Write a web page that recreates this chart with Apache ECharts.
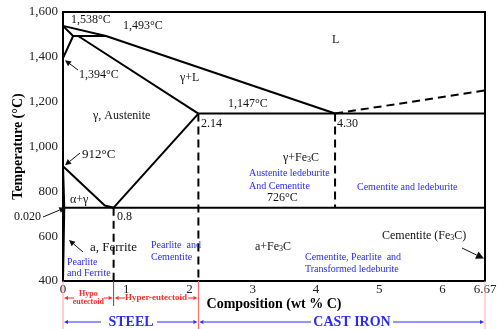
<!DOCTYPE html>
<html>
<head>
<meta charset="utf-8">
<script src="https://cdn.jsdelivr.net/npm/echarts@6/dist/echarts.min.js"></script>
<style>
  html, body { margin: 0; padding: 0; background: #fff; }
  #chart { width: 499px; height: 329px; }
</style>
</head>
<body>
<div id="chart"></div>
<script>
// Fe–Fe3C phase diagram: boundaries as [wt % C, temperature °C]
const deltaBoundary = [[0, 1538], [0.16, 1493], [0, 1394]];
const peritecticLine = [[0.16, 1493], [0.68, 1493]];
const liquidus = [[0, 1538], [0.68, 1493], [4.30, 1147]];
const solidus = [[0.24, 1493], [2.14, 1147]];
const eutecticLine = [[2.14, 1147], [6.67, 1147]];
const a3Line = [[0, 912], [0.66, 737], [0.8, 727]];
const acmLine = [[0.8, 727], [2.14, 1147]];
const alphaGammaLine = [[0, 912], [0.02, 727]];
const alphaSolvus = [[0.02, 727], [0, 400]];
const eutectoidLine = [[0.02, 727], [6.67, 727]];
const cementiteLiquidus = [[4.30, 1147], [6.67, 1250]];
const eutectoidVertical = [[0.8, 727], [0.8, 400]];
const steelLimitVertical = [[2.14, 1147], [2.14, 400]];
const eutecticVertical = [[4.30, 1147], [4.30, 727]];

const solidLines = [deltaBoundary, peritecticLine, liquidus, solidus, eutecticLine,
  a3Line, acmLine, alphaGammaLine, alphaSolvus, eutectoidLine];
const dashedLines = [cementiteLiquidus, eutectoidVertical, steelLimitVertical, eutecticVertical];

const xMin = 0, xMax = 6.67, xStep = 1;
const yMin = 400, yMax = 1600, yStep = 200;

const SERIF = '"Liberation Serif", "Times New Roman", serif';
const BLUE = '#2a2aff';
const RED = '#ff2a2a';

const chart = echarts.init(document.getElementById('chart'), null, { renderer: 'canvas' });

const series = [];
solidLines.forEach(function (d) {
  series.push({ type: 'line', data: d, symbol: 'none', silent: true, animation: false,
    lineStyle: { color: '#000', width: 2 } });
});
dashedLines.forEach(function (d) {
  series.push({ type: 'line', data: d, symbol: 'none', silent: true, animation: false,
    lineStyle: { color: '#000', width: 2, type: [8, 5] } });
});

chart.setOption({
  animation: false,
  grid: { left: 63, right: 14, top: 12, bottom: 48, containLabel: false, outerBoundsMode: 'none',
    show: true, borderColor: '#000', borderWidth: 2 },
  xAxis: {
    type: 'value', min: xMin, max: xMax, interval: xStep,
    name: 'Composition (wt % C)', nameLocation: 'middle', nameGap: 16, nameMoveOverlap: false,
    nameTextStyle: { fontFamily: SERIF, fontSize: 14, fontWeight: 'bold', color: '#000' },
    axisLine: { show: true, lineStyle: { color: '#000', width: 2 } },
    axisTick: { show: false }, splitLine: { show: false },
    axisLabel: { fontFamily: SERIF, fontSize: 13, color: '#222', margin: 2,
      formatter: function (v) { return v === xMax ? '6.67' : String(v); } }
  },
  yAxis: {
    type: 'value', min: yMin, max: yMax, interval: yStep,
    name: 'Temperature (°C)', nameLocation: 'middle', nameGap: 38, nameRotate: 90, nameMoveOverlap: false,
    nameTextStyle: { fontFamily: SERIF, fontSize: 14, fontWeight: 'bold', color: '#000' },
    axisLine: { show: true, lineStyle: { color: '#000', width: 2 } },
    axisTick: { show: false }, splitLine: { show: false },
    axisLabel: { fontFamily: SERIF, fontSize: 13, color: '#222', margin: 5,
      formatter: function (v) { return v.toLocaleString('en-US'); } }
  },
  series: series
});

function px(x, y) { return chart.convertToPixel({ gridIndex: 0 }, [x, y]); }

function txt(text, x, y, opts) {
  opts = opts || {};
  return {
    type: 'text', x: x, y: y, silent: true, z: 10,
    style: {
      text: text, fill: opts.color || '#111',
      fontFamily: SERIF, fontSize: opts.size || 12, fontWeight: opts.weight || 'normal',
      align: opts.align || 'left', verticalAlign: 'middle',
      rich: { s: { fontFamily: SERIF, fontSize: Math.round((opts.size || 12) * 0.7),
        fill: opts.color || '#111', verticalAlign: 'bottom', padding: [4, 0, 0, 0] } }
    }
  };
}

function arrow(x1, y1, x2, y2, color, head, width) {
  const a = Math.atan2(y2 - y1, x2 - x1);
  const h = head || 6, w = h * 0.5;
  const bx = x2 - h * Math.cos(a), by = y2 - h * Math.sin(a);
  return [
    { type: 'line', silent: true, z: 10, shape: { x1: x1, y1: y1, x2: bx, y2: by },
      style: { stroke: color, lineWidth: width || 1 } },
    { type: 'polygon', silent: true, z: 10,
      shape: { points: [[x2, y2], [bx + w * Math.sin(a), by - w * Math.cos(a)], [bx - w * Math.sin(a), by + w * Math.cos(a)]] },
      style: { fill: color } }
  ];
}

function vline(x, y1, y2, color) {
  return { type: 'line', silent: true, z: 10, shape: { x1: x, y1: y1, x2: x, y2: y2 },
    style: { stroke: color, lineWidth: 1 } };
}

const p1394 = px(0, 1394), p912 = px(0, 912), p020 = px(0.02, 727), pFe3C = px(6.67, 500);
const p0 = px(0, 400), p08 = px(0.8, 400), p214 = px(2.14, 400), p667 = px(6.67, 400);
const axisY = p0[1];

let g = [
  txt('1,538°C', 71, 20),
  txt('1,493°C', 123, 26),
  txt('1,394°C', 79, 75),
  txt('γ, Austenite', 93, 116),
  txt('L', 332, 40),
  txt('γ+L', 180, 78),
  txt('1,147°C', 228, 104),
  txt('2.14', 201, 124),
  txt('4.30', 337, 124),
  txt('γ+Fe{s|3}C', 283, 158),
  txt('Austenite ledeburite', 249, 173, { color: BLUE, size: 10 }),
  txt('And Cementite', 249, 186, { color: BLUE, size: 10 }),
  txt('726°C', 267, 198),
  txt('Cementite and ledeburite', 357, 187, { color: BLUE, size: 10 }),
  txt('Cementite (Fe{s|3}C)', 382, 236),
  txt('a+Fe{s|3}C', 255, 247),
  txt('Cementite, Pearlite  and', 305, 257, { color: BLUE, size: 10 }),
  txt('Transformed ledeburite', 305, 269, { color: BLUE, size: 10 }),
  txt('Pearlite  and', 151, 245, { color: BLUE, size: 10 }),
  txt('Cementite', 151, 257, { color: BLUE, size: 10 }),
  txt('Pearlite', 67, 262, { color: BLUE, size: 10 }),
  txt('and Ferrite', 67, 273, { color: BLUE, size: 10 }),
  txt('a, Ferrite', 90, 248, { size: 13 }),
  txt('α+γ', 70, 200),
  txt('912°C', 82, 155, { size: 13 }),
  txt('0.020', 14, 217),
  txt('0.8', 117, 217),
  // steel / cast iron ranges under the axis
  txt('Hypo', (p0[0] + p08[0]) / 2, 294, { color: RED, size: 8, weight: 'bold', align: 'center' }),
  txt('eutectoid', (p0[0] + p08[0]) / 2, 302, { color: RED, size: 8, weight: 'bold', align: 'center' }),
  txt('Hyper-eutectoid', 156, 298, { color: RED, size: 9, weight: 'bold', align: 'center' }),
  txt('STEEL', 131, 322, { color: BLUE, size: 14, weight: 'bold', align: 'center' }),
  txt('CAST IRON', 352, 322, { color: BLUE, size: 14, weight: 'bold', align: 'center' }),
  vline(p0[0], axisY, 329, '#ff9c9c'),
  vline(p08[0], axisY, 306, '#555'),
  vline(p214[0], axisY, 329, '#ff5a5a'),
  vline(p667[0], axisY, 329, '#ffaaaa')
];

g = g.concat(
  arrow(74, 298, p0[0] + 1, 298, RED, 4),
  arrow(104, 298, p08[0] - 1, 298, RED, 4),
  arrow(125, 298, p08[0] + 1, 298, RED, 4),
  arrow(188, 298, p214[0] - 1, 298, RED, 4),
  arrow(78, 70, p1394[0] + 2, p1394[1] + 2, '#111', 6),
  arrow(80, 153, p912[0] + 2, p912[1] - 1, '#111', 6),
  arrow(43, 217, p020[0] + 1, p020[1], '#111', 6),
  arrow(83, 252, 69, 240, '#111', 6),
  arrow(462, 248, pFe3C[0] - 1, pFe3C[1], '#111', 8),
  arrow(101, 322, p0[0] + 1, 322, BLUE, 4),
  arrow(157, 322, p214[0] - 1, 322, BLUE, 4),
  arrow(311, 322, p214[0] + 1, 322, BLUE, 4),
  arrow(393, 322, p667[0] - 1, 322, BLUE, 4)
);

chart.setOption({ graphic: g });
</script>
</body>
</html>
